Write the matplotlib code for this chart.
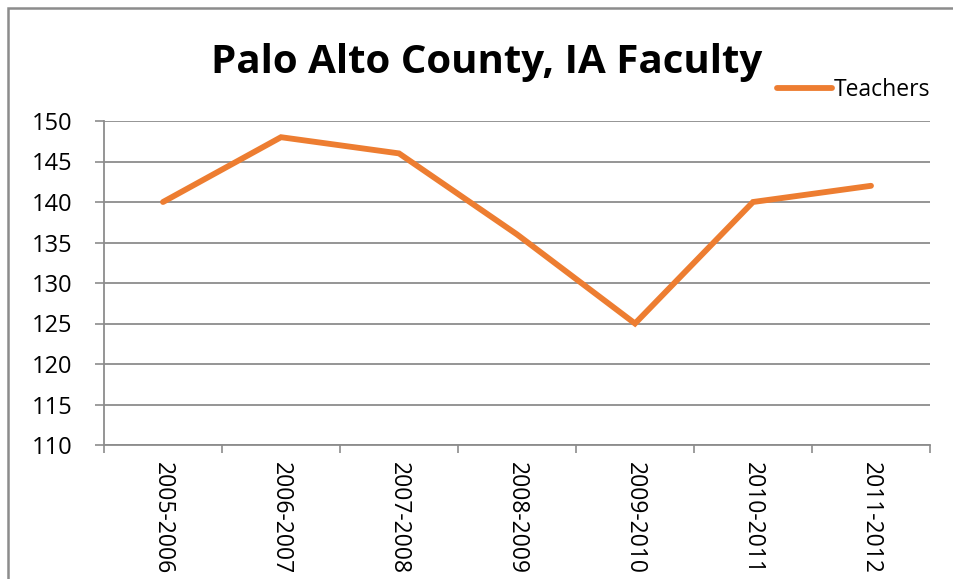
import numpy as np
import matplotlib.pyplot as plt
from matplotlib.patches import Rectangle

# veri
yillar = ['2005-2006', '2006-2007', '2007-2008', '2008-2009',
          '2009-2010', '2010-2011', '2011-2012']
ogretmenler = [140, 148, 146, 136, 125, 140, 142]
y_tikler = [110, 115, 120, 125, 130, 135, 140, 145, 150]

plt.rcParams['font.family'] = ['Open Sans', 'DejaVu Sans']

fig = plt.figure(figsize=(9.54, 5.79), dpi=100)
fig.patches.append(Rectangle((8 / 954, -0.1), 1.2, 1.1 - 8 / 579,
                             transform=fig.transFigure, fill=False,
                             edgecolor='#8c8c8c', linewidth=1.8, zorder=0))

ax = fig.add_axes([104 / 954, 1 - 445 / 579, (930 - 104) / 954, (445 - 121) / 579])
x = np.arange(len(yillar))
ax.plot(x, ogretmenler, color='#ED7D31', linewidth=4.2, solid_capstyle='round',
        solid_joinstyle='miter', label='Teachers', zorder=3)

ax.set_ylim(110, 150)
ax.set_xlim(-0.5, len(yillar) - 0.5)
ax.set_yticks(y_tikler)
ax.set_yticklabels([str(v) for v in y_tikler], fontsize=17)
ax.yaxis.grid(True, color='#8c8c8c', linewidth=1.3)
ax.set_axisbelow(True)

ax.set_xticks(x)
ax.set_xticklabels(yillar, rotation=270, fontsize=16.5, va='top', ha='center')
ax.set_xticks(np.arange(-0.5, len(yillar)), minor=True)
ax.tick_params(axis='x', which='major', length=0, pad=12)
ax.tick_params(axis='x', which='minor', length=6, width=1.2, color='#8c8c8c')
ax.tick_params(axis='y', length=6.5, width=1.2, color='#8c8c8c', pad=16)

for s in ['top', 'right']:
    ax.spines[s].set_visible(False)
for s in ['left', 'bottom']:
    ax.spines[s].set_color('#8c8c8c')
    ax.spines[s].set_linewidth(1.3)

fig.text(487 / 954, 1 - 62 / 579, 'Palo Alto County, IA Faculty', fontsize=29,
         fontweight='bold', ha='center', va='center')

fig.legend(loc='center left', bbox_to_anchor=(768 / 954, 1 - 90 / 579), frameon=False,
           fontsize=16.5, handlelength=2.4, handletextpad=0.05, borderaxespad=0)

fig.savefig('out.png', dpi=100)
